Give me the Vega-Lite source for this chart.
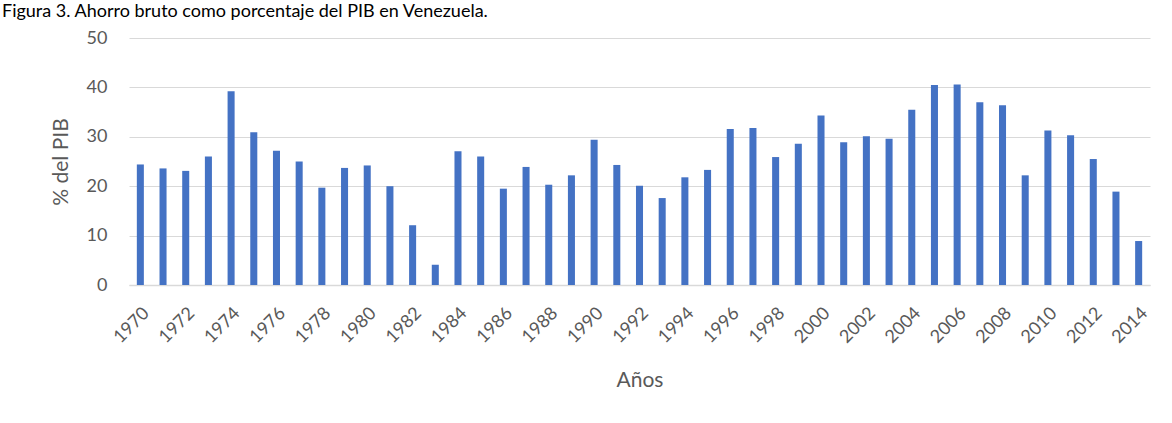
{
  "$schema": "https://vega.github.io/schema/vega-lite/v6.json",
  "width": 1021,
  "height": 247,
  "autosize": {"type": "none"},
  "padding": {"left": 129, "top": 38, "right": 22, "bottom": 138},
  "background": "white",
  "title": {
    "text": "Figura 3. Ahorro bruto como porcentaje del PIB en Venezuela.",
    "anchor": "start",
    "frame": "group",
    "orient": "top",
    "font": "Lato",
    "fontSize": 18,
    "fontWeight": "normal",
    "color": "#000000",
    "baseline": "top",
    "offset": 0,
    "dx": -127,
    "dy": -8
  },
  "config": {
    "view": {"stroke": null},
    "font": "Lato"
  },
  "data": {
    "values": [
      {"year": 1970, "value": 24.4}, {"year": 1971, "value": 23.6}, {"year": 1972, "value": 23.1},
      {"year": 1973, "value": 26.0}, {"year": 1974, "value": 39.2}, {"year": 1975, "value": 30.9},
      {"year": 1976, "value": 27.2}, {"year": 1977, "value": 25.0}, {"year": 1978, "value": 19.7},
      {"year": 1979, "value": 23.7}, {"year": 1980, "value": 24.2}, {"year": 1981, "value": 20.0},
      {"year": 1982, "value": 12.1}, {"year": 1983, "value": 4.1}, {"year": 1984, "value": 27.1},
      {"year": 1985, "value": 26.0}, {"year": 1986, "value": 19.5}, {"year": 1987, "value": 23.9},
      {"year": 1988, "value": 20.3}, {"year": 1989, "value": 22.2}, {"year": 1990, "value": 29.4},
      {"year": 1991, "value": 24.3}, {"year": 1992, "value": 20.1}, {"year": 1993, "value": 17.6},
      {"year": 1994, "value": 21.8}, {"year": 1995, "value": 23.3}, {"year": 1996, "value": 31.6},
      {"year": 1997, "value": 31.8}, {"year": 1998, "value": 25.9}, {"year": 1999, "value": 28.6},
      {"year": 2000, "value": 34.3}, {"year": 2001, "value": 28.9}, {"year": 2002, "value": 30.1},
      {"year": 2003, "value": 29.6}, {"year": 2004, "value": 35.5}, {"year": 2005, "value": 40.5},
      {"year": 2006, "value": 40.6}, {"year": 2007, "value": 37.0}, {"year": 2008, "value": 36.4},
      {"year": 2009, "value": 22.2}, {"year": 2010, "value": 31.3}, {"year": 2011, "value": 30.3},
      {"year": 2012, "value": 25.5}, {"year": 2013, "value": 18.9}, {"year": 2014, "value": 8.9}
    ]
  },
  "mark": {"type": "bar", "color": "#4472C4"},
  "encoding": {
    "x": {
      "field": "year",
      "type": "ordinal",
      "scale": {"paddingInner": 0.69, "paddingOuter": 0.345},
      "axis": {
        "title": "Años",
        "titleFont": "Lato",
        "titleFontSize": 21,
        "titleFontWeight": "normal",
        "titleColor": "#595959",
        "titlePadding": 23,
        "labelExpr": "datum.value % 2 == 0 ? datum.label : ''",
        "labelAngle": -45,
        "labelFontSize": 18,
        "labelColor": "#595959",
        "labelPadding": 19,
        "labelOverlap": false,
        "ticks": false,
        "domainColor": "#d9d9d9",
        "domainWidth": 1.5,
        "grid": false
      }
    },
    "y": {
      "field": "value",
      "type": "quantitative",
      "scale": {"domain": [0, 50]},
      "axis": {
        "title": "% del PIB",
        "titleFont": "Lato",
        "titleFontSize": 21,
        "titleFontWeight": "normal",
        "titleColor": "#595959",
        "titlePadding": 15,
        "values": [0, 10, 20, 30, 40, 50],
        "labelFontSize": 18,
        "labelColor": "#595959",
        "labelPadding": 22,
        "ticks": false,
        "domain": false,
        "gridColor": "#d9d9d9",
        "gridWidth": 1.2
      }
    }
  }
}
